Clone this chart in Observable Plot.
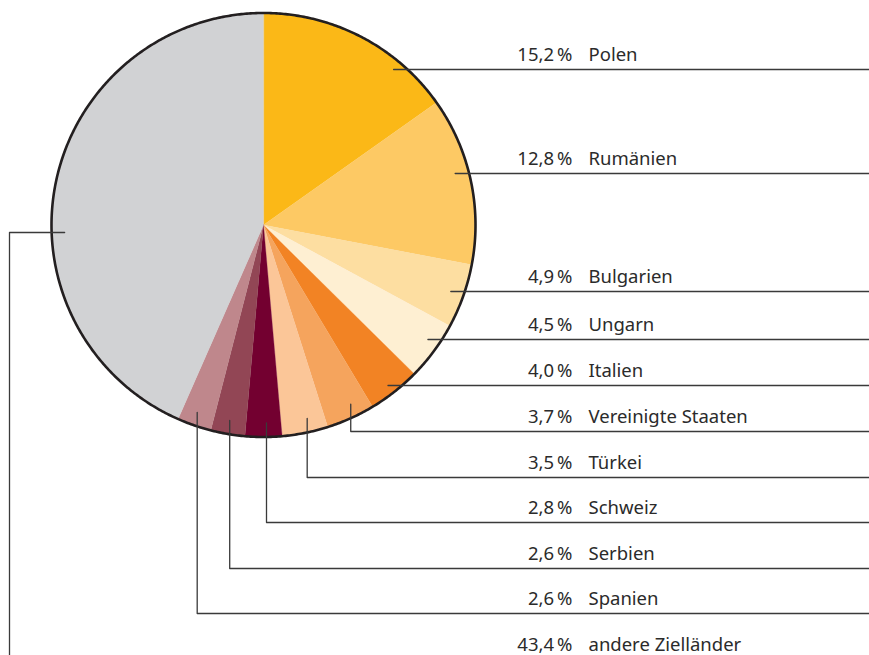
<!DOCTYPE html>
<html>
<head>
<meta charset="utf-8">
<script src="https://cdn.jsdelivr.net/npm/d3@7"></script>
<script src="https://cdn.jsdelivr.net/npm/@observablehq/plot@0.6"></script>
<style>
  html, body { margin: 0; padding: 0; background: #fff; }
  #chart svg { display: block; }
</style>
</head>
<body>
<div id="chart"></div>
<script>
// ---- data ----
const countries = ["Polen", "Rumänien", "Bulgarien", "Ungarn", "Italien", "Vereinigte Staaten", "Türkei", "Schweiz", "Serbien", "Spanien", "andere Zielländer"];
const shares = [15.2, 12.8, 4.9, 4.5, 4.0, 3.7, 3.5, 2.8, 2.6, 2.6, 43.4];
const shareLabels = ["15,2\u2009%", "12,8\u2009%", "4,9\u2009%", "4,5\u2009%", "4,0\u2009%", "3,7\u2009%", "3,5\u2009%", "2,8\u2009%", "2,6\u2009%", "2,6\u2009%", "43,4\u2009%"];
const sliceColors = ["#fbb817", "#fdc964", "#fddea1", "#feefd2", "#f28324", "#f5a45d", "#fbc698", "#730030", "#924655", "#bf878c", "#d1d2d4"];

// ---- layout (not data) ----
const W = 869, H = 655;
const cx = 263, cy = 224.5, R = 212;
const labelLineY = [69, 173, 291, 339, 385, 431, 477, 522, 568, 613, null];
const leaderKind = ["h", "h", "h", "h", "h", "v", "v", "v", "v", "v", "left"];
const otherLeaderY = 232, otherLeaderX = 9, otherTextY = 645;
const pctX = 572, nameX = 588;
const vShift = [0, 0, 0, 0, 0, 0, 2, 3, 2, 3, 0];

const rows = countries.map((c, i) => ({name: c, share: shares[i], label: shareLabels[i], color: sliceColors[i], i}));
const arcs = d3.pie().value(d => d.share).sort(null)(rows);

const pt = (a, r) => [cx + r * Math.sin(a), cy - r * Math.cos(a)];

// slice polygons
const slicePts = [];
for (const a of arcs) {
  slicePts.push({name: a.data.name, color: a.data.color, x: cx, y: cy});
  const n = Math.max(4, Math.ceil((a.endAngle - a.startAngle) / 0.005));
  for (let k = 0; k <= n; k++) {
    const ang = a.startAngle + (a.endAngle - a.startAngle) * k / n;
    const [x, y] = pt(ang, R);
    slicePts.push({name: a.data.name, color: a.data.color, x, y});
  }
}
// outline
const outline = d3.range(0, 721).map(k => { const [x, y] = pt(k / 720 * 2 * Math.PI, R); return {x, y}; });

// leaders
const leaderPts = [];
const textRows = [];
arcs.forEach((a, i) => {
  const name = a.data.name;
  const kind = leaderKind[i];
  const ly = labelLineY[i];
  if (kind === "h") {
    const ex = cx + Math.sqrt(R * R - (ly - cy) ** 2);
    leaderPts.push({name, x: ex - 14, y: ly}, {name, x: W, y: ly});
    textRows.push({...a.data, ty: ly - 14.5});
  } else if (kind === "v") {
    const mid = (a.startAngle + a.endAngle) / 2;
    const x = cx + R * Math.sin(mid) + vShift[i];
    const ey = cy + Math.sqrt(R * R - (x - cx) ** 2);
    leaderPts.push({name, x, y: ey - 14}, {name, x, y: ly}, {name, x: W, y: ly});
    textRows.push({...a.data, ty: ly - 14.5});
  } else {
    const ex = cx - Math.sqrt(R * R - (otherLeaderY - cy) ** 2);
    leaderPts.push({name, x: ex + 13, y: otherLeaderY}, {name, x: otherLeaderX, y: otherLeaderY}, {name, x: otherLeaderX, y: H});
    textRows.push({...a.data, ty: otherTextY});
  }
});

const chart = Plot.plot({
  width: W, height: H,
  margin: 0,
  x: {domain: [0, W], range: [0, W], axis: null},
  y: {domain: [0, H], range: [0, H], axis: null},
  color: {type: "identity"},
  style: {background: "#fff", fontFamily: "'Noto Sans', 'Open Sans', sans-serif"},
  marks: [
    Plot.line(slicePts, {x: "x", y: "y", z: "name", fill: "color", stroke: "color", strokeWidth: 0.3, curve: "linear-closed"}),
    Plot.line(outline, {x: "x", y: "y", stroke: "#231f20", strokeWidth: 2.6, curve: "linear-closed"}),
    Plot.line(leaderPts, {x: "x", y: "y", z: "name", stroke: "#3a3a3a", strokeWidth: 1.3}),
    Plot.text(textRows, {x: () => pctX, y: "ty", text: "label", textAnchor: "end", fontSize: 18.5, fill: "#2b2b2b"}),
    Plot.text(textRows, {x: () => nameX, y: "ty", text: "name", textAnchor: "start", fontSize: 18.5, fill: "#2b2b2b"})
  ]
});
document.getElementById("chart").appendChild(chart);
</script>
</body>
</html>
